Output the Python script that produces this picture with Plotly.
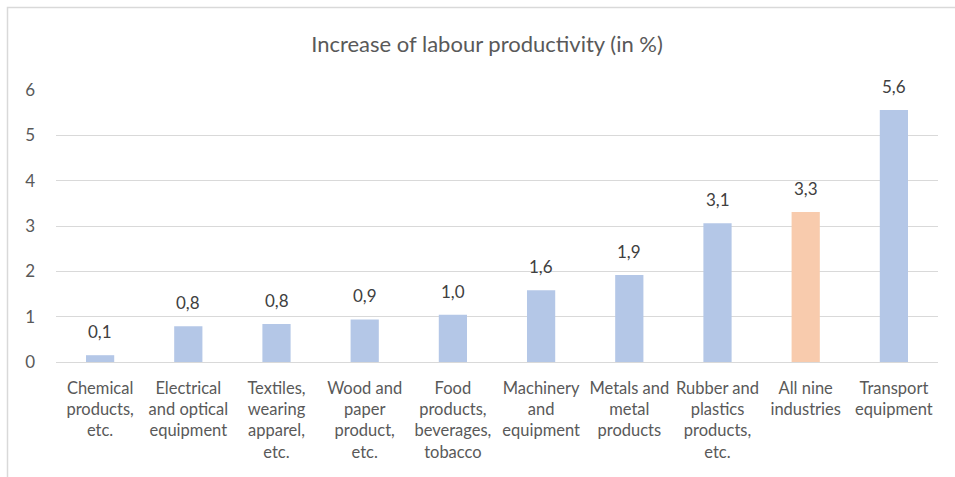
import plotly.graph_objects as go

categories = [
    "Chemical<br>products,<br>etc.",
    "Electrical<br>and optical<br>equipment",
    "Textiles,<br>wearing<br>apparel,<br>etc.",
    "Wood and<br>paper<br>product,<br>etc.",
    "Food<br>products,<br>beverages,<br>tobacco",
    "Machinery<br>and<br>equipment",
    "Metals and<br>metal<br>products",
    "Rubber and<br>plastics<br>products,<br>etc.",
    "All nine<br>industries",
    "Transport<br>equipment",
]
values = [0.15, 0.79, 0.84, 0.94, 1.04, 1.58, 1.92, 3.06, 3.31, 5.56]
bar_colors = ["#B4C7E7"] * 8 + ["#F8CBAD"] + ["#B4C7E7"]
y_ticks = [0, 1, 2, 3, 4, 5, 6]

W, H = 955, 477
L, R, T, B = 56, 17, 90, 115
pw, ph = W - L - R, H - T - B

FONT = "Lato, Calibri, Carlito, sans-serif"

xs = list(range(len(categories)))

fig = go.Figure(
    go.Bar(
        x=xs,
        y=values,
        marker=dict(color=bar_colors, line=dict(width=0)),
        hoverinfo="skip",
    )
)

# data labels
for xi, v in zip(xs, values):
    fig.add_annotation(
        x=xi, y=v, xref="x", yref="y",
        text=f"{v:.1f}".replace(".", ","),
        showarrow=False,
        yanchor="bottom",
        yshift=11,
        font=dict(family=FONT, size=17, color="#404040"),
    )

fig.update_layout(
    width=W,
    height=H,
    margin=dict(l=L, r=R, t=T, b=B),
    paper_bgcolor="white",
    plot_bgcolor="white",
    bargap=0.68,
    showlegend=False,
    font=dict(family=FONT, color="#595959"),
    title=dict(
        text="Increase of labour productivity (in %)",
        x=(487 - L) / pw,
        xref="paper",
        xanchor="center",
        y=1 - 44 / H,
        yref="container",
        yanchor="middle",
        font=dict(family=FONT, size=22, color="#595959"),
    ),
)

fig.update_xaxes(
    tickmode="array",
    tickvals=xs,
    ticktext=categories,
    range=[-0.5, len(categories) - 0.5],
    showgrid=False,
    showline=False,
    zeroline=False,
    ticks="",
    tickangle=0,
    tickfont=dict(family=FONT, size=16.5, color="#595959"),
    ticklabelstandoff=14,
)
fig.update_yaxes(
    range=[0, 6],
    tickmode="array",
    tickvals=y_ticks,
    ticktext=[str(v) for v in y_ticks],
    showgrid=True,
    gridcolor="#D9D9D9",
    gridwidth=1,
    zeroline=True,
    zerolinecolor="#D9D9D9",
    zerolinewidth=1,
    showline=False,
    ticks="",
    tickfont=dict(family=FONT, size=17, color="#595959"),
    ticklabelstandoff=20,
)

# outer chart-area border (only top and left edges visible in the crop)
fig.add_shape(
    type="rect",
    xref="paper", yref="paper",
    x0=(7.5 - L) / pw, x1=(W + 20 - L) / pw,
    y0=-(B + 20) / ph, y1=1 + (T - 7.5) / ph,
    line=dict(color="#D9D9D9", width=1.5),
    fillcolor="rgba(0,0,0,0)",
    layer="below",
)

fig.write_html(
    "out.html",
    config={"displayModeBar": False},
    post_script="document.body.style.margin='0';document.body.style.overflow='hidden';",
)
